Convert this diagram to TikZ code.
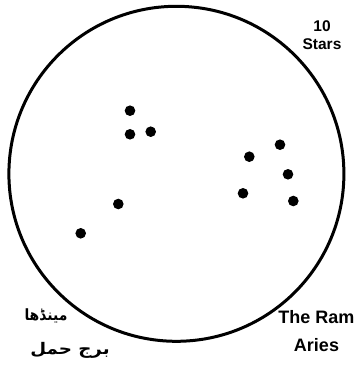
\documentclass[tikz,border=0pt]{standalone}
\usepackage{fontspec}
\usepackage{graphicx}
\setmainfont{Liberation Sans}
\newfontfamily\urdufont[Script=Arabic]{DejaVu Sans}
\TeXXeTstate=1
\begin{document}
\begin{tikzpicture}[x=1pt,y=-1pt,
  skydot/.style={circle,fill=black,inner sep=0pt,minimum size=10.6pt},
  label/.style={align=center,inner sep=0pt},
  urdu/.style={inner sep=0pt}]
\useasboundingbox (0,0) rectangle (360,366);
\node[draw,circle,line width=3pt,minimum size=335pt,inner sep=0pt] (sky) at (176.4,173.8) {};
\node[skydot] (s1) at (130,110.7) {};
\node[skydot] (s2) at (130,134.3) {};
\node[skydot] (s3) at (150.7,131.7) {};
\node[skydot] (s4) at (118.3,204) {};
\node[skydot] (s5) at (80.7,233.3) {};
\node[skydot] (s6) at (249.3,156.7) {};
\node[skydot] (s7) at (280,144.7) {};
\node[skydot] (s8) at (288,174.3) {};
\node[skydot] (s9) at (243,193.3) {};
\node[skydot] (s10) at (293.3,201) {};
\node[label,font=\bfseries\fontsize{15.5}{18}\selectfont] (count) at (322,35) {10\\Stars};
\node[label,font=\bfseries\fontsize{18}{27.5}\selectfont] (name) at (316.5,331) {The Ram\\Aries};
\node[urdu,font=\urdufont\bfseries\fontsize{15.5}{18}\selectfont] (u1) at (46,316) {\scalebox{0.9}[1]{\beginR مینڈھا\endR}};
\node[urdu,font=\urdufont\bfseries\fontsize{16}{18}\selectfont] (u2) at (70,350) {\scalebox{1.14}[1]{\beginR برج حمل\endR}};
\end{tikzpicture}
\end{document}
